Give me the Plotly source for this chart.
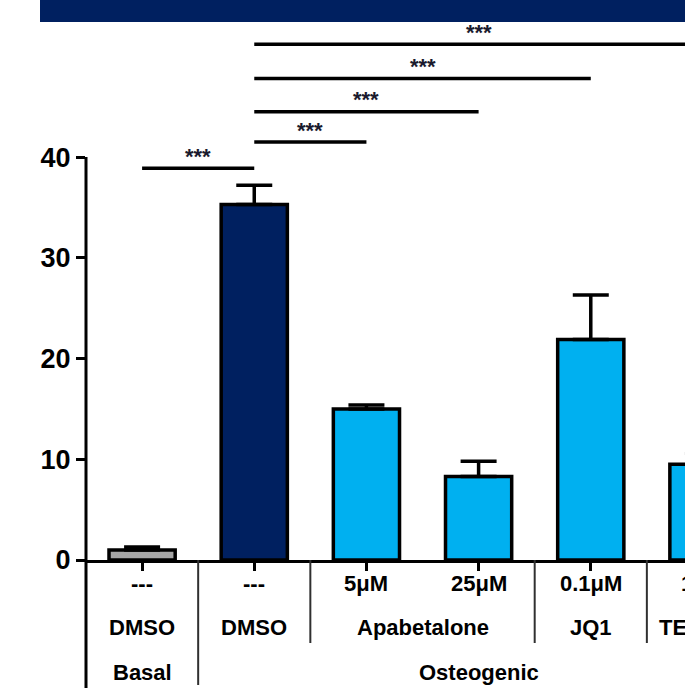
import plotly.graph_objects as go

# ---- data ----
conc_labels = ["---", "---", "5μM", "25μM", "0.1μM", "1μM"]
values = [1.0, 35.3, 15.0, 8.3, 21.9, 9.5]
errors = [0.3, 1.9, 0.4, 1.5, 4.4, 1.1]
bar_colors = ["#A6A6A6", "#002060", "#00B0F0", "#00B0F0", "#00B0F0", "#00B0F0"]

compound_names = ["DMSO", "DMSO", "Apabetalone", "JQ1", "TEN-010"]
compound_start = [0, 1, 2, 4, 5]
compound_end = [0, 1, 3, 4, 5]

condition_names = ["Basal", "Osteogenic"]
condition_start = [0, 1]
condition_end = [0, 5]

sig_from = [0, 1, 1, 1, 1]
sig_to = [1, 2, 3, 4, 5]
sig_level = [38.9, 41.5, 44.5, 47.8, 51.2]
sig_text = ["***", "***", "***", "***", "***"]

y_ticks = [0, 10, 20, 30, 40]

# ---- layout constants ----
W, H = 685, 694
ML, MR, MT, MB = 86, 0, 0, 134
XR = [-0.5, 4.84]
YR = [0, 55.6]
plot_h = H - MT - MB
plot_w = W - ML - MR
FONT = "Liberation Sans, Arial, sans-serif"


def xp(x):
    return (x - XR[0]) / (XR[1] - XR[0])


def px_to_paper_y(px_below_axis):
    return -px_below_axis / plot_h


x_idx = list(range(len(values)))

fig = go.Figure()
fig.add_trace(go.Bar(
    x=x_idx, y=values, width=0.59,
    marker=dict(color=bar_colors, line=dict(color="black", width=3.5)),
    error_y=dict(type="data", symmetric=False, array=errors,
                 arrayminus=[0] * len(errors), color="black",
                 thickness=3.5, width=18),
    showlegend=False, hoverinfo="skip",
))

shapes = []
annotations = []

# title bar (cropped)
shapes.append(dict(type="rect", xref="paper", yref="paper",
                   x0=(40 - ML) / plot_w, x1=1.0, y0=1 - 22 / plot_h, y1=1.02,
                   fillcolor="#002060", line=dict(width=0), layer="above"))

# y-axis line
shapes.append(dict(type="line", xref="paper", yref="paper",
                   x0=0, x1=0, y0=px_to_paper_y(128), y1=y_ticks[-1] / YR[1],
                   line=dict(color="black", width=3)))

# significance brackets
for a, b, lvl, t in zip(sig_from, sig_to, sig_level, sig_text):
    shapes.append(dict(type="line", xref="x", yref="y", x0=a, x1=b,
                       y0=lvl, y1=lvl, line=dict(color="black", width=3.5)))
    annotations.append(dict(xref="paper", yref="y", x=xp((a + b) / 2), y=lvl,
                            text=t, showarrow=False, xanchor="center",
                            yanchor="middle", yshift=12,
                            font=dict(family=FONT, size=22, color="#1a1a2e", weight="bold")))

# table row 1: concentrations
for i, lab in enumerate(conc_labels):
    annotations.append(dict(xref="paper", yref="paper", x=xp(i), y=0,
                            text=lab, showarrow=False, xanchor="center",
                            yanchor="middle", yshift=-23,
                            font=dict(family=FONT, size=22, color="black", weight="bold")))

# condition boundaries
cond_bounds = [e + 0.5 for e in condition_end[:-1]]
for xb in cond_bounds:
    shapes.append(dict(type="line", xref="x", yref="paper", x0=xb, x1=xb,
                       y0=0, y1=px_to_paper_y(125), line=dict(color="#303030", width=2)))

# compound boundaries (short)
for e in compound_end[:-1]:
    xb = e + 0.5
    if xb in cond_bounds:
        continue
    shapes.append(dict(type="line", xref="x", yref="paper", x0=xb, x1=xb,
                       y0=0, y1=px_to_paper_y(83), line=dict(color="#303030", width=2)))

# table row 2: compounds
for name, s, e in zip(compound_names, compound_start, compound_end):
    annotations.append(dict(xref="paper", yref="paper", x=xp((s + e) / 2), y=0,
                            text=name, showarrow=False, xanchor="center",
                            yanchor="middle", yshift=-67,
                            font=dict(family=FONT, size=22, color="black", weight="bold")))

# table row 3: conditions
for name, s, e in zip(condition_names, condition_start, condition_end):
    annotations.append(dict(xref="paper", yref="paper", x=xp((s + e) / 2), y=0,
                            text=name, showarrow=False, xanchor="center",
                            yanchor="middle", yshift=-112,
                            font=dict(family=FONT, size=22, color="black", weight="bold")))

fig.update_layout(
    width=W, height=H,
    margin=dict(l=ML, r=MR, t=MT, b=MB, pad=0),
    paper_bgcolor="white", plot_bgcolor="white",
    shapes=shapes, annotations=annotations,
    xaxis=dict(range=XR, tickvals=x_idx, showticklabels=False,
               ticks="outside", ticklen=8, tickwidth=2.5, tickcolor="black",
               showline=True, linecolor="black", linewidth=3,
               showgrid=False, zeroline=False, fixedrange=True),
    yaxis=dict(range=YR, tickvals=y_ticks, ticktext=[str(v) for v in y_ticks],
               ticks="outside", ticklen=9, tickwidth=2.5, tickcolor="black",
               tickfont=dict(family=FONT, size=27, color="black", weight="bold"),
               showline=False, showgrid=False, zeroline=False, fixedrange=True),
    bargap=0.41,
)

fig.write_html("out.html", config={"displayModeBar": False},
               post_script="document.body.style.margin='0';document.body.style.overflow='hidden';")
